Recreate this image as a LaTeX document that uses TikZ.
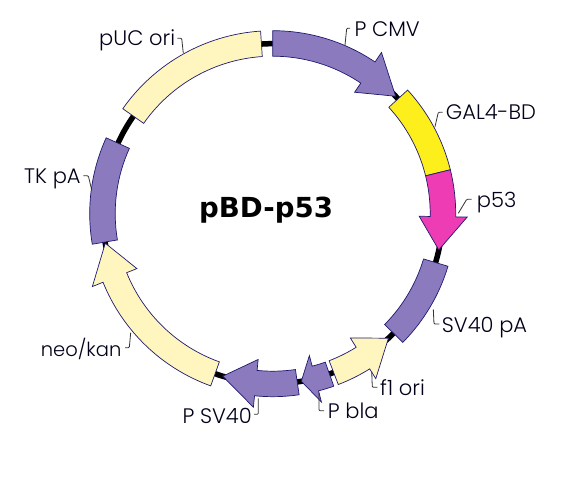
\documentclass[tikz,border=0pt]{standalone}
\usepackage{fontspec}
\setmainfont{Poppins Light}
\newfontfamily\titlefont{DejaVu Sans}[BoldFont={DejaVu Sans Bold}]
\definecolor{ink}{HTML}{1F1A6E}
\definecolor{genepurple}{HTML}{8C7ABF}
\definecolor{genecream}{HTML}{FFF6BF}
\definecolor{geneyellow}{HTML}{FDEF1C}
\definecolor{genepink}{HTML}{EE3DB4}
\definecolor{leadgray}{HTML}{333333}
\tikzset{
  gene/.style={draw=ink,line width=0.7pt,line join=miter},
  backbone/.style={draw=black,line width=5.5pt},
  leaderline/.style={draw=leadgray,line width=0.8pt,rounded corners=1pt},
  lab/.style={anchor=base west,inner sep=0pt,font=\fontsize{21}{24}\selectfont,text=black!90!blue},
  plasmidname/.style={anchor=base west,inner sep=0pt,font=\titlefont\bfseries\fontsize{27.6}{30}\selectfont}
}
\newcommand{\genebox}[3]{%
  \path[gene,fill=#3] (#1:183) arc[start angle=#1,end angle=#2,radius=183]
    -- (#2:157.5) arc[start angle=#2,end angle=#1,radius=157.5] -- cycle;}
\newcommand{\genearrow}[4]{%
  \path[gene,fill=#4] (#1:183) arc[start angle=#1,end angle=#2,radius=183]
    -- (#2:194.5) -- (#3:170) -- (#2:146.5) -- (#2:157.5)
    arc[start angle=#2,end angle=#1,radius=157.5] -- cycle;}
\begin{document}
\begin{tikzpicture}[x=1pt,y=1pt]
\useasboundingbox (0,0) rectangle (575,497);
\fill[white] (0,0) rectangle (575,497);
\begin{scope}[shift={(272.7,283.3)}]
  \draw[backbone] (0,0) circle[radius=170];
  \genearrow{90}{56}{43.7}{genepurple}
  \genebox{42.5}{13.9}{geneyellow}
  \genearrow{13.9}{-1}{-12.3}{genepink}
  \genebox{-16.7}{-44.7}{genepurple}
  \genearrow{-69}{-58}{-47.1}{genecream}
  \genearrow{-70.5}{-75.5}{-80.3}{genepurple}
  \genearrow{-81.7}{-95.7}{-107.1}{genepurple}
  \genearrow{-109.8}{-158}{-170}{genecream}
  \genebox{-170.4}{-204.5}{genepurple}
  \genebox{145}{93.8}{genecream}
\end{scope}
\node[plasmidname] (title) at (199,497-218) {pBD-p53};
\node[lab] (cmv) at (354.3,497-36.7) {P CMV};
\node[lab] (gal) at (445.7,497-120) {GAL4-BD};
\node[lab] (p53) at (476.7,497-208) {p53};
\node[lab] (sv40pa) at (441.7,497-332.7) {SV40 pA};
\node[lab] (f1) at (380,497-395.7) {f1 ori};
\node[lab] (pbla) at (327.7,497-419) {P bla};
\node[lab] (psv) at (182.3,497-423.3) {P SV40};
\node[lab,font=\fontsize{19.5}{24}\selectfont] (neo) at (40.7,497-356.7) {neo/kan};
\node[lab] (tk) at (24,497-184) {TK pA};
\node[lab] (puc) at (99,497-45.7) {pUC ori};
\coordinate (l1a) at (345,497-45);\coordinate (l1b) at (346.7,497-28.3);\coordinate (l1c) at (350,497-28.3);
\draw[leaderline] (l1a) -- (l1b) -- (l1c);
\coordinate (l2a) at (435,497-126.7);\coordinate (l2b) at (438.3,497-112.3);\coordinate (l2c) at (442.7,497-112.3);
\draw[leaderline] (l2a) -- (l2b) -- (l2c);
\coordinate (l3a) at (458.3,497-213.3);\coordinate (l3b) at (466.7,497-199.3);\coordinate (l3c) at (471.7,497-199.3);
\draw[leaderline] (l3a) -- (l3b) -- (l3c);
\coordinate (l4a) at (433.3,497-309.3);\coordinate (l4b) at (434,497-324);\coordinate (l4c) at (439.3,497-324);
\draw[leaderline] (l4a) -- (l4b) -- (l4c);
\coordinate (l5a) at (371.7,497-371.7);\coordinate (l5b) at (372.3,497-387.3);\coordinate (l5c) at (377.3,497-387.3);
\draw[leaderline] (l5a) -- (l5b) -- (l5c);
\coordinate (l6a) at (319,497-392.7);\coordinate (l6b) at (319,497-410.7);\coordinate (l6c) at (324,497-410.7);
\draw[leaderline] (l6a) -- (l6b) -- (l6c);
\coordinate (l7a) at (258.3,497-398.3);\coordinate (l7b) at (258.3,497-414.3);\coordinate (l7c) at (254,497-414.3);
\draw[leaderline] (l7a) -- (l7b) -- (l7c);
\coordinate (l8a) at (130.7,497-332.7);\coordinate (l8b) at (129.3,497-347.7);\coordinate (l8c) at (125,497-347.7);
\draw[leaderline] (l8a) -- (l8b) -- (l8c);
\coordinate (l9a) at (91.7,497-190);\coordinate (l9b) at (88.3,497-175.7);\coordinate (l9c) at (83.3,497-175.7);
\draw[leaderline] (l9a) -- (l9b) -- (l9c);
\coordinate (l10a) at (183.3,497-53.3);\coordinate (l10b) at (181.7,497-38.3);\coordinate (l10c) at (177.3,497-38.3);
\draw[leaderline] (l10a) -- (l10b) -- (l10c);
\end{tikzpicture}
\end{document}
